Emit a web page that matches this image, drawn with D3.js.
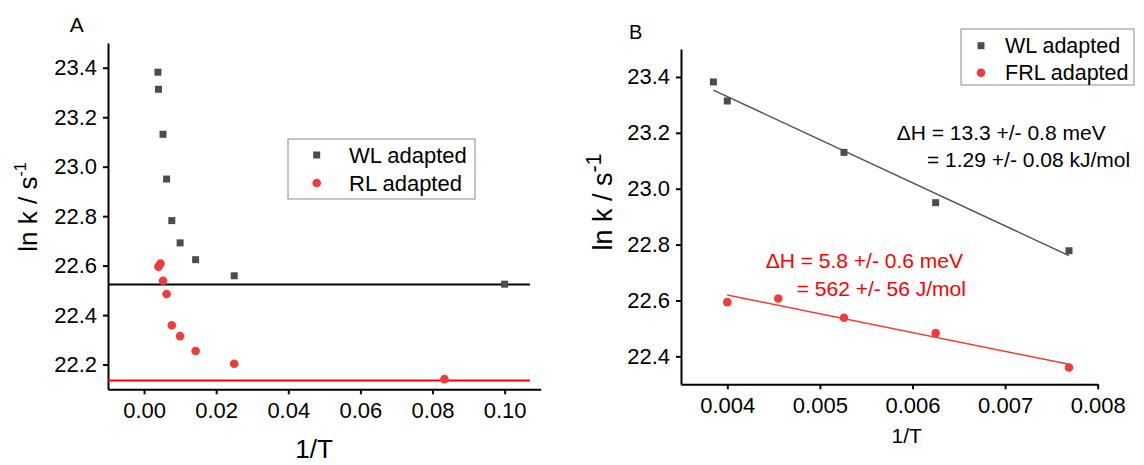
<!DOCTYPE html>
<html>
<head>
<meta charset="utf-8">
<script src="https://d3js.org/d3.v7.min.js"></script>
<style>
  body { margin: 0; background: #fff; }
  text { font-family: "Liberation Sans", Arial, sans-serif; }
</style>
</head>
<body>
<div class="chart"></div>
<script>
// ---- datos panel A ----
var invT_wlA = [0.00385, 0.0040, 0.00526, 0.00625, 0.00769, 0.0100, 0.0143, 0.0250, 0.1000];
var lnk_wlA  = [23.382, 23.313, 23.131, 22.95, 22.782, 22.692, 22.624, 22.559, 22.525];
var invT_rlA = [0.0040, 0.00455, 0.00526, 0.00625, 0.00769, 0.0100, 0.0143, 0.0250, 0.0833];
var lnk_rlA  = [22.596, 22.608, 22.539, 22.485, 22.359, 22.315, 22.255, 22.203, 22.141];
var levelsA  = [22.524, 22.136];   // lineas horizontales (WL, RL)
var levelEndA = 0.107;
var yTicksA = [22.2, 22.4, 22.6, 22.8, 23.0, 23.2, 23.4];
var yMinorA = [22.1, 22.3, 22.5, 22.7, 22.9, 23.1, 23.3, 23.5];
var xTicksA = [0.00, 0.02, 0.04, 0.06, 0.08, 0.10];
var xMinorA = [-0.01, 0.01, 0.03, 0.05, 0.07, 0.09, 0.11];

// ---- datos panel B ----
var invT_wlB = [0.00385, 0.0040, 0.00526, 0.00625, 0.00769];
var lnk_wlB  = [23.382, 23.314, 23.13, 22.95, 22.778];
var invT_rlB = [0.0040, 0.00455, 0.00526, 0.00625, 0.00769];
var lnk_rlB  = [22.594, 22.607, 22.538, 22.483, 22.36];
var fitWL = { slope: -154.3, intercept: 23.947 };
var fitRL = { slope: -67.3, intercept: 22.889 };
var yTicksB = [22.4, 22.6, 22.8, 23.0, 23.2, 23.4];
var yMinorB = [22.3, 22.5, 22.7, 22.9, 23.1, 23.3, 23.5];
var xTicksB = [0.004, 0.005, 0.006, 0.007, 0.008];
var xMinorB = [0.0035, 0.0045, 0.0055, 0.0065, 0.0075];

var gray = "#4d4d4d", red = "#ef3b3b";

var svg = d3.select(".chart")
  .append("svg")
  .attr("width", 1144)
  .attr("height", 465)
  .style("background", "#FFFFFF");

function pairs(xs, ys) { return xs.map(function(x, i) { return [x, ys[i]]; }); }

// dibuja ejes con ticks mayores y menores
function axes(x, y, xt, xm, yt, ym, xfmt, yfmt, fs) {
  var x0 = x.range()[0], y0 = y.range()[0];
  var gx = svg.append("g").attr("transform", "translate(0," + y0 + ")");
  gx.call(d3.axisBottom(x).tickValues(xm).tickSize(3).tickSizeOuter(0).tickFormat(""));
  gx.call(d3.axisBottom(x).tickValues(xt).tickSize(5).tickSizeOuter(0).tickPadding(8).tickFormat(d3.format(xfmt)));
  var gy = svg.append("g").attr("transform", "translate(" + x0 + ",0)");
  gy.call(d3.axisLeft(y).tickValues(ym).tickSize(3).tickSizeOuter(0).tickFormat(""));
  gy.call(d3.axisLeft(y).tickValues(yt).tickSize(5).tickSizeOuter(0).tickPadding(6).tickFormat(d3.format(yfmt)));
  [gx, gy].forEach(function(g) {
    g.selectAll("path.domain").attr("stroke", "#000").attr("stroke-width", 2);
    g.selectAll(".tick line").attr("stroke", "#000").attr("stroke-width", 2);
    g.selectAll(".tick text").attr("fill", "#000").style("font-size", fs + "px")
      .style("font-family", "Liberation Sans, Arial, sans-serif");
  });
}

function squares(x, y, data) {
  svg.append("g").selectAll("rect").data(data).enter().append("rect")
    .attr("x", function(d) { return x(d[0]) - 3.5; })
    .attr("y", function(d) { return y(d[1]) - 3.5; })
    .attr("width", 7).attr("height", 7)
    .attr("fill", gray);
}
function circles(x, y, data) {
  svg.append("g").selectAll("circle").data(data).enter().append("circle")
    .attr("cx", function(d) { return x(d[0]); })
    .attr("cy", function(d) { return y(d[1]); })
    .attr("r", 4.3)
    .attr("fill", red);
}

function legend(x0, y0, w, h, mx, tx, rows, labels, fs) {
  svg.append("rect").attr("x", x0).attr("y", y0).attr("width", w).attr("height", h)
    .attr("fill", "#fff").attr("stroke", "#8c8c8c").attr("stroke-width", 1);
  svg.append("rect").attr("x", mx - 3.5).attr("y", rows[0] - 3.5).attr("width", 7).attr("height", 7).attr("fill", gray);
  svg.append("circle").attr("cx", mx).attr("cy", rows[1]).attr("r", 4.3).attr("fill", red);
  labels.forEach(function(l, i) {
    svg.append("text").attr("x", tx).attr("y", rows[i]).attr("dy", "0.36em")
      .style("font-size", fs + "px").attr("fill", "#000").text(l);
  });
}

function yTitle(xb, yc, fs, supScale) {
  var t = svg.append("text")
    .attr("transform", "translate(" + xb + "," + yc + ") rotate(-90)")
    .attr("text-anchor", "middle")
    .style("font-size", fs + "px")
    .attr("fill", "#000");
  t.append("tspan").text("ln k / s");
  t.append("tspan").attr("dy", -fs * 0.42).style("font-size", (fs * supScale) + "px").text("-1");
}

// ================= Panel A =================
var xA = d3.scaleLinear().domain([-0.01, 0.11]).range([108, 540.7]);
var yA = d3.scaleLinear().domain([22.1, 23.5]).range([389.3, 43]);

axes(xA, yA, xTicksA, xMinorA, yTicksA, yMinorA, ".2f", ".1f", 22);

svg.append("g").selectAll("line").data(levelsA).enter().append("line")
  .attr("x1", xA(-0.01)).attr("x2", xA(levelEndA))
  .attr("y1", function(d) { return yA(d); })
  .attr("y2", function(d) { return yA(d); })
  .attr("stroke", function(d, i) { return i == 0 ? "#000" : "#ff0000"; })
  .attr("stroke-width", 2);

squares(xA, yA, pairs(invT_wlA, lnk_wlA));
circles(xA, yA, pairs(invT_rlA, lnk_rlA));

legend(288, 139, 187, 60, 316.7, 349, [155, 183], ["WL adapted", "RL adapted"], 22);

svg.append("text").attr("x", 76.7).attr("y", 31.5).attr("text-anchor", "middle")
  .style("font-size", "21px").text("A");
svg.append("text").attr("x", 314).attr("y", 458).attr("text-anchor", "middle")
  .style("font-size", "26px").text("1/T");
yTitle(37, 207, 26, 0.62);

// ================= Panel B =================
var xB = d3.scaleLinear().domain([0.0035, 0.008]).range([681, 1097.7]);
var yB = d3.scaleLinear().domain([22.3, 23.5]).range([384.3, 49]);

axes(xB, yB, xTicksB, xMinorB, yTicksB, yMinorB, ".3f", ".1f", 22);

// rectas de ajuste
var fitLine = d3.line()
  .x(function(d) { return xB(d[0]); })
  .y(function(d) { return yB(d[1]); });
[[fitWL, invT_wlB, "#555555"], [fitRL, invT_rlB, "#ef3b3b"]].forEach(function(f) {
  var ends = [d3.min(f[1]), d3.max(f[1])].map(function(x) { return [x, f[0].intercept + f[0].slope * x]; });
  svg.append("path").attr("d", fitLine(ends)).attr("stroke", f[2]).attr("stroke-width", 1.5).attr("fill", "none");
});

squares(xB, yB, pairs(invT_wlB, lnk_wlB));
circles(xB, yB, pairs(invT_rlB, lnk_rlB));

legend(961, 29, 173, 56, 981, 1005, [45.7, 72.7], ["WL adapted", "FRL adapted"], 21.5);

svg.append("text").attr("x", 635.7).attr("y", 39).attr("text-anchor", "middle")
  .style("font-size", "20px").text("B");
svg.append("text").attr("x", 906.7).attr("y", 443).attr("text-anchor", "middle")
  .style("font-size", "21px").text("1/T");
yTitle(612, 202, 27, 0.8);

// anotaciones
svg.append("text").attr("x", 896.7).attr("y", 140).style("font-size", "21px").attr("fill", "#000")
  .text("\u0394H = 13.3 +/- 0.8 meV");
svg.append("text").attr("x", 927).attr("y", 167).style("font-size", "21px").attr("fill", "#000")
  .text("= 1.29 +/- 0.08 kJ/mol");
svg.append("text").attr("x", 765.7).attr("y", 268).style("font-size", "21px").attr("fill", "#ff0000")
  .text("\u0394H = 5.8 +/- 0.6 meV");
svg.append("text").attr("x", 796.7).attr("y", 296).style("font-size", "21px").attr("fill", "#ff0000")
  .text("= 562 +/- 56 J/mol");
</script>
</body>
</html>
